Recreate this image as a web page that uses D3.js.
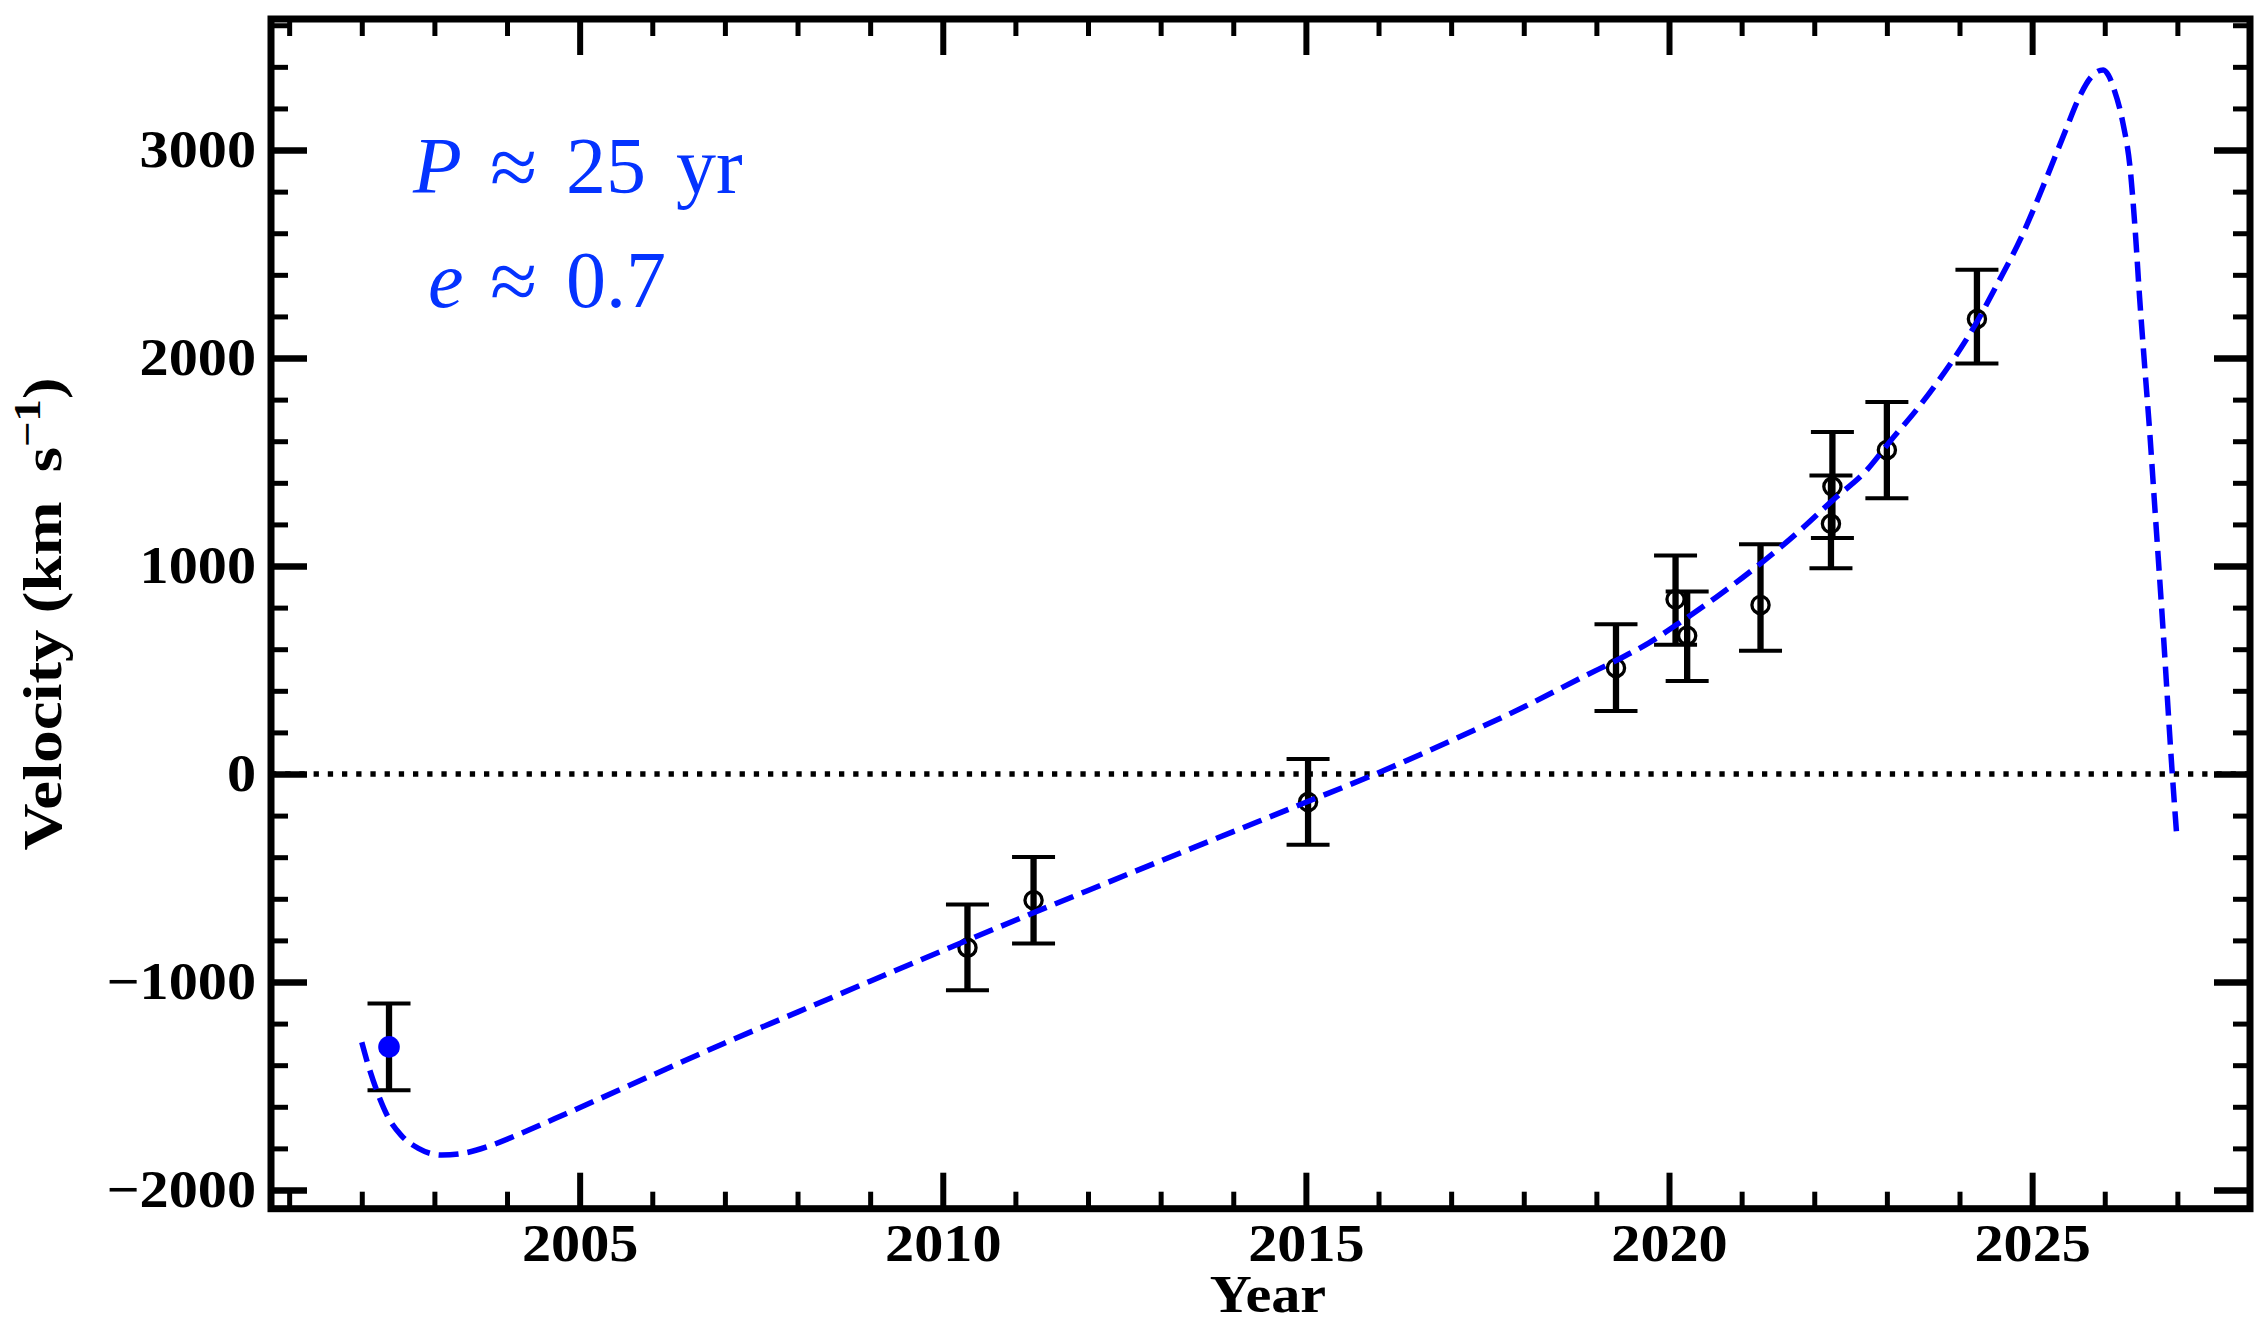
<!DOCTYPE html>
<html>
<head>
<meta charset="utf-8">
<script src="https://cdn.jsdelivr.net/npm/d3@7"></script>
<style>
  html, body { margin: 0; padding: 0; background: #fff; }
  svg { display: block; }
</style>
</head>
<body>
<svg id="chart" width="2255" height="1324"></svg>
<script>
// Radial-velocity measurements (km/s) with asymmetric 1-sigma errors
const obsYear    = [2010.34, 2011.25, 2015.03, 2019.27, 2020.09, 2020.25, 2021.26, 2022.25, 2022.23, 2023.00, 2024.24];
const obsVel     = [-835, -607, -135, 510, 840, 665, 813, 1382, 1203, 1558, 2188];
const obsErrLow  = [205, 208, 205, 207, 218, 218, 220, 247, 214, 232, 214];
const obsErrHigh = [207, 208, 207, 210, 210, 213, 292, 262, 232, 230, 236];

// Earliest epoch, shown as a filled blue marker
const refYear = [2002.375];
const refVel  = [-1312];
const refErr  = [208];

// Orbital solution sampled along the dashed curve
const fitYear = [2002.00, 2002.08, 2002.22, 2002.36, 2002.54, 2002.78, 2003.10, 2003.42, 2003.77, 2004.19,
                 2004.82, 2006.00, 2007.00, 2008.00, 2009.00, 2010.00, 2011.00, 2012.00, 2013.00, 2014.00,
                 2015.00, 2016.00, 2017.00, 2018.00, 2018.86, 2019.27, 2019.73, 2020.19, 2020.65, 2021.29,
                 2021.80, 2022.26, 2022.72, 2023.04, 2023.41, 2023.65, 2024.25, 2024.52, 2024.85, 2025.18,
                 2025.45, 2025.65, 2025.81, 2025.90, 2025.98, 2026.05, 2026.12, 2026.25, 2026.35, 2026.42,
                 2026.48, 2026.55, 2026.62, 2026.68, 2026.80, 2026.93, 2026.99];
const fitVel  = [-1290, -1390, -1535, -1648, -1736, -1800, -1832, -1822, -1787, -1728,
                 -1632, -1448, -1293, -1145, -996, -849, -703, -560, -418, -277,
                 -136, 6, 160, 322, 475, 545, 632, 738, 850, 1020,
                 1170, 1318, 1460, 1598, 1752, 1862, 2180, 2355, 2580, 2850,
                 3085, 3255, 3350, 3378, 3385, 3360, 3300, 3130, 2910, 2610,
                 2290, 1960, 1640, 1330, 710, 0, -290];

// Axis ticks
const xMajorTicks = [2005, 2010, 2015, 2020, 2025];
const yMajorTicks = [-2000, -1000, 0, 1000, 2000, 3000];
const xMinorTicks = d3.range(2001, 2029, 1).filter(v => v % 5 !== 0);
const yMinorTicks = d3.range(-2000, 3601, 200).filter(v => v % 1000 !== 0);

const xLabel = "Year";
const annotP = ["P", "≈", "25", "yr"];
const annotE = ["e", "≈", "0.7"];

const svg = d3.select("#chart");
const plot = { left: 271, right: 2250, top: 19, bottom: 1208.7 };

const x = d3.scaleLinear().domain([2000.75, 2028.0]).range([plot.left, plot.right]);
const y = d3.scaleLinear().domain([-2090, 3630]).range([plot.bottom, plot.top]);

const serif = "Liberation Serif";
const STRETCH = "scale(1.12,1)";

// zero-velocity reference line
svg.append("line")
  .attr("x1", plot.left).attr("x2", plot.right)
  .attr("y1", y(0)).attr("y2", y(0))
  .attr("stroke", "#000").attr("stroke-width", 5.3)
  .attr("stroke-dasharray", "5.3,8.9");

// error bars
function drawErrorBar(g, yr, v, lo, hi) {
  const cx = x(yr);
  g.append("line").attr("x1", cx).attr("x2", cx)
    .attr("y1", y(v - lo)).attr("y2", y(v + hi))
    .attr("stroke", "#000").attr("stroke-width", 6.3);
  [v - lo, v + hi].forEach(c => {
    g.append("line").attr("x1", cx - 21.5).attr("x2", cx + 21.5)
      .attr("y1", y(c)).attr("y2", y(c))
      .attr("stroke", "#000").attr("stroke-width", 4);
  });
}
const bars = svg.append("g");
obsYear.forEach((yr, i) => drawErrorBar(bars, yr, obsVel[i], obsErrLow[i], obsErrHigh[i]));
refYear.forEach((yr, i) => drawErrorBar(bars, yr, refVel[i], refErr[i], refErr[i]));

// open circles for the measurements
svg.append("g").selectAll("circle").data(obsYear).join("circle")
  .attr("cx", d => x(d)).attr("cy", (d, i) => y(obsVel[i]))
  .attr("r", 8.6).attr("fill", "none")
  .attr("stroke", "#000").attr("stroke-width", 3.3);

// filled blue marker
svg.append("g").selectAll("circle").data(refYear).join("circle")
  .attr("cx", d => x(d)).attr("cy", (d, i) => y(refVel[i]))
  .attr("r", 10.8).attr("fill", "#0000ff");

// dashed orbital curve
const fitPts = fitYear.map((t, i) => [t, fitVel[i]]);
svg.append("path")
  .datum(fitPts)
  .attr("d", d3.line().x(d => x(d[0])).y(d => y(d[1])).curve(d3.curveMonotoneX))
  .attr("fill", "none").attr("stroke", "#0000ff")
  .attr("stroke-width", 5.5).attr("stroke-dasharray", "20,9");

// frame
svg.append("rect")
  .attr("x", plot.left).attr("y", plot.top)
  .attr("width", plot.right - plot.left).attr("height", plot.bottom - plot.top)
  .attr("fill", "none").attr("stroke", "#000").attr("stroke-width", 7);

function finishAxis(g, w) {
  g.select(".domain").remove();
  g.selectAll(".tick line").attr("stroke", "#000").attr("stroke-width", w);
}
const fmt = d3.format("d");

// major ticks with labels
svg.append("g").attr("transform", `translate(0,${plot.bottom})`)
  .call(d3.axisBottom(x).tickValues(xMajorTicks).tickSize(-36).tickPadding(15).tickFormat(fmt))
  .call(g => finishAxis(g, 6))
  .call(g => g.selectAll("text").attr("transform", STRETCH));
svg.append("g").attr("transform", `translate(${plot.left},0)`)
  .call(d3.axisLeft(y).tickValues(yMajorTicks).tickSize(-36).tickPadding(13.4).tickFormat(fmt))
  .call(g => finishAxis(g, 6.5))
  .call(g => g.selectAll("text").attr("transform", STRETCH));
svg.append("g").attr("transform", `translate(0,${plot.top})`)
  .call(d3.axisTop(x).tickValues(xMajorTicks).tickSize(-36).tickFormat(""))
  .call(g => finishAxis(g, 6));
svg.append("g").attr("transform", `translate(${plot.right},0)`)
  .call(d3.axisRight(y).tickValues(yMajorTicks).tickSize(-36).tickFormat(""))
  .call(g => finishAxis(g, 6.5));

// minor ticks
svg.append("g").attr("transform", `translate(0,${plot.bottom})`)
  .call(d3.axisBottom(x).tickValues(xMinorTicks).tickSize(-17).tickFormat(""))
  .call(g => finishAxis(g, 5));
svg.append("g").attr("transform", `translate(0,${plot.top})`)
  .call(d3.axisTop(x).tickValues(xMinorTicks).tickSize(-17).tickFormat(""))
  .call(g => finishAxis(g, 5));
svg.append("g").attr("transform", `translate(${plot.left},0)`)
  .call(d3.axisLeft(y).tickValues(yMinorTicks).tickSize(-17).tickFormat(""))
  .call(g => finishAxis(g, 5));
svg.append("g").attr("transform", `translate(${plot.right},0)`)
  .call(d3.axisRight(y).tickValues(yMinorTicks).tickSize(-17).tickFormat(""))
  .call(g => finishAxis(g, 5));

svg.selectAll(".tick text")
  .attr("font-family", serif).attr("font-weight", "bold")
  .attr("font-size", 52).attr("fill", "#000");

// axis titles
svg.append("text")
  .attr("transform", "translate(1268,1312) scale(1.12,1)")
  .attr("text-anchor", "middle")
  .attr("font-family", serif).attr("font-weight", "bold").attr("font-size", 52)
  .text(xLabel);

const yl = svg.append("text")
  .attr("transform", "translate(61,614) rotate(-90) scale(1.18,1)")
  .attr("text-anchor", "middle")
  .attr("font-family", serif).attr("font-weight", "bold").attr("font-size", 55);
yl.append("tspan").text("Velocity (km\u2009 s");
yl.append("tspan").attr("font-size", 38).attr("dy", -21).text("\u22121");
yl.append("tspan").attr("dy", 21).text(")");

// orbit annotation
const blueText = "#0433ff";
function annotLine(yBase, parts, xs) {
  const t = svg.append("text").attr("y", yBase)
    .attr("font-family", serif).attr("font-size", 80).attr("fill", blueText);
  parts.forEach((p, i) => {
    const s = t.append("tspan").attr("x", xs[i]).attr("y", yBase).text(p);
    if (i === 0) s.attr("font-style", "italic");
    if (p === "≈") s.attr("font-size", 86).attr("y", yBase + 3);
  });
}
annotLine(193, annotP, [413, 490, 566, 676]);
annotLine(307, annotE, [428, 490, 566]);
</script>
</body>
</html>
